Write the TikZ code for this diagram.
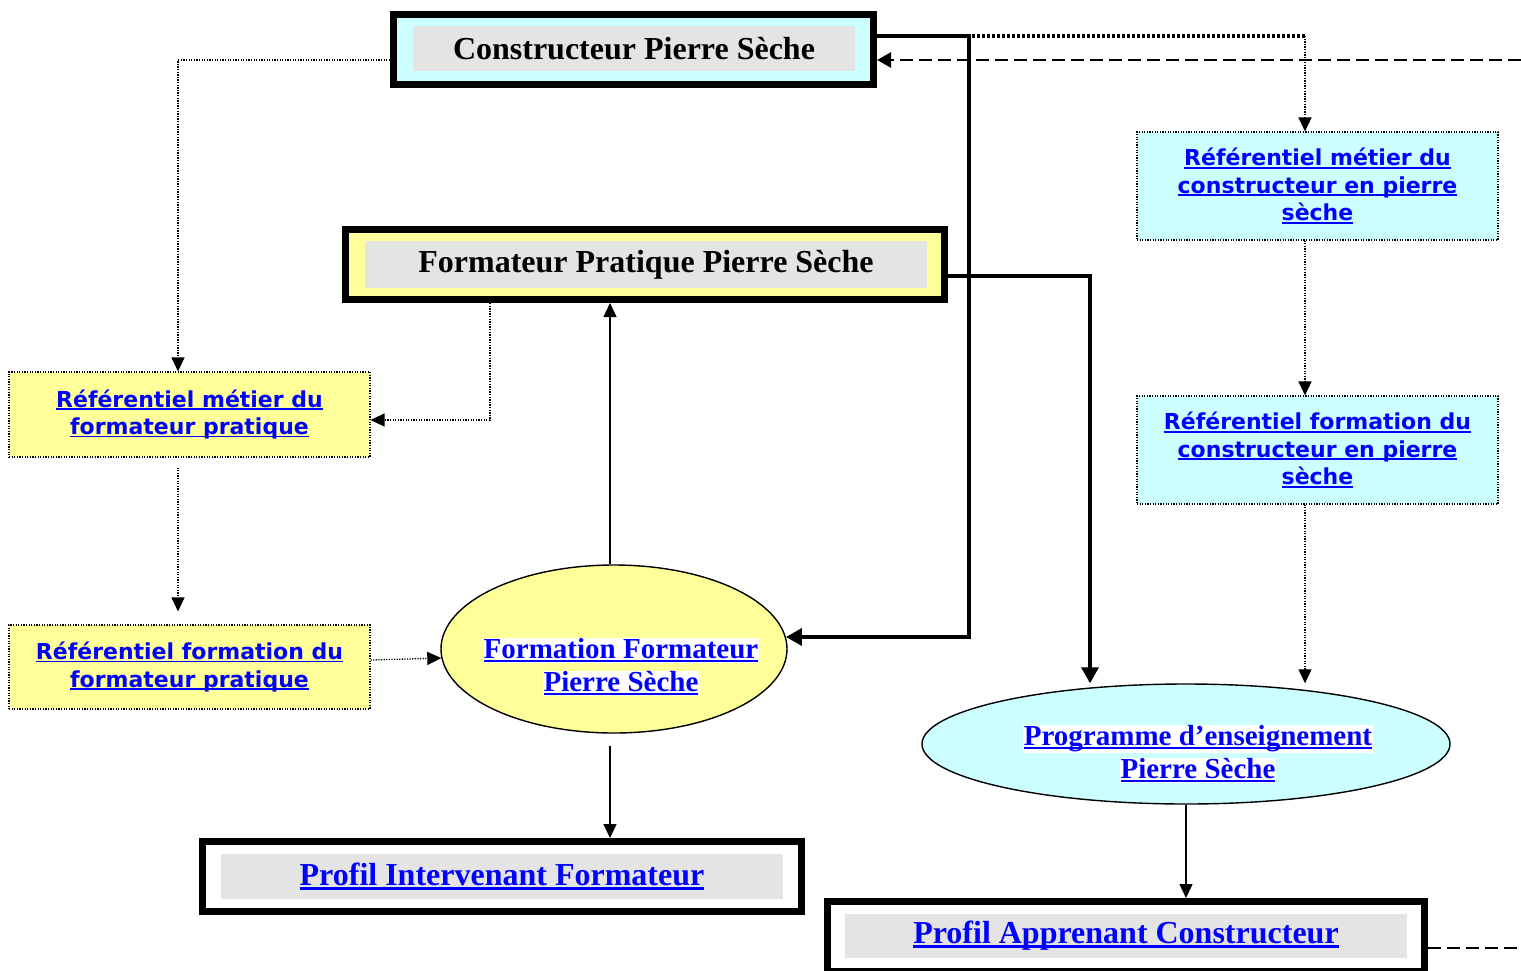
\documentclass[tikz,border=0pt]{standalone}
\usepackage{fontspec}
\setmainfont{Liberation Serif}
\newfontfamily\refsans{DejaVu Sans}
\usetikzlibrary{arrows.meta,shapes.geometric,calc}
\definecolor{cyanF}{HTML}{CCFFFF}
\definecolor{yelF}{HTML}{FFFF99}
\definecolor{grayF}{HTML}{E4E4E4}
\definecolor{linkblue}{HTML}{0000FF}
\newcommand\lnk[1]{\begingroup\color{linkblue}\setbox0=\hbox{#1}\rlap{\rule[-0.12em]{\wd0}{0.08em}}\box0\endgroup}
\newcommand\whl[1]{{\fboxsep=0.5pt\colorbox{white}{#1}}}
\begin{document}
\begin{tikzpicture}[x=1pt,y=-1pt,
  heavybox/.style={draw=black,line width=7pt,inner sep=0pt,minimum height=70pt},
  grayin/.style={fill=grayF,inner sep=0pt,font=\fontsize{32}{36}\selectfont\bfseries},
  refbox/.style={draw=black,line width=1.1pt,dash pattern=on 1.2pt off 1.4pt,inner sep=0pt,minimum width=361pt,align=center,font=\refsans\bfseries\fontsize{22}{27.5}\selectfont},
  ellbox/.style={ellipse,draw=black,line width=1.4pt,inner sep=0pt},
  elltext/.style={align=center,inner sep=0pt,font=\fontsize{29}{33}\selectfont\bfseries},
  arr/.style={-{Triangle[length=14pt,width=13pt]}},
  dasharr/.style={-{Triangle[length=14pt,width=15pt]}},
  bigarr/.style={-{Triangle[length=16pt,width=17pt]}},
  thinA/.style={line width=1.4pt,arr},
  thickA/.style={line width=3.5pt,bigarr},
  dotA/.style={line width=1.3pt,dash pattern=on 1.3pt off 1.3pt},
  dotB/.style={line width=3.5pt,dash pattern=on 3pt off 2pt},
  dashA/.style={line width=2.2pt,dash pattern=on 13pt off 6pt}]
\useasboundingbox[fill=white] (0,0) rectangle (1521,970);
% boxes
\node[heavybox,fill=cyanF,minimum width=480pt] (cps) at (633.5,49) {};
\node[grayin,minimum width=442pt,minimum height=45pt] (cpsT) at (634,48.5) {Constructeur Pierre Sèche};
\node[heavybox,fill=yelF,minimum width=599pt] (fps) at (645,264.5) {};
\node[grayin,minimum width=562pt,minimum height=47pt] (fpsT) at (646,264.5) {Formateur Pratique Pierre Sèche};
\node[heavybox,fill=white,minimum width=599pt] (pif) at (502,876.5) {};
\node[grayin,minimum width=562pt,minimum height=45pt] (pifT) at (502,876.5) {\lnk{Profil Intervenant Formateur}};
\node[heavybox,fill=white,minimum width=597pt] (pac) at (1126,936.5) {};
\node[grayin,minimum width=562pt,minimum height=44pt] (pacT) at (1126,936) {\lnk{Profil Apprenant Constructeur}};
\node[refbox,fill=yelF,minimum height=85pt] (rmf) at (189.5,414.5) {\lnk{Référentiel métier du}\\\lnk{formateur pratique}};
\node[refbox,fill=yelF,minimum height=84pt] (rff) at (189.5,667) {\lnk{Référentiel formation du}\\\lnk{formateur pratique}};
\node[refbox,fill=cyanF,minimum height=108pt] (rmc) at (1317.5,186) {\lnk{Référentiel métier du}\\\lnk{constructeur en pierre}\\\lnk{sèche}};
\node[refbox,fill=cyanF,minimum height=108pt] (rfc) at (1317.5,450) {\lnk{Référentiel formation du}\\\lnk{constructeur en pierre}\\\lnk{sèche}};
\node[ellbox,fill=yelF,minimum width=346pt,minimum height=168pt] (ff) at (614,649) {};
\node[elltext] (ffT) at (621,667) {\whl{\lnk{Formation Formateur}}\\\whl{\lnk{Pierre Sèche}}};
\node[ellbox,fill=cyanF,minimum width=528pt,minimum height=120pt] (pes) at (1186,744) {};
\node[elltext] (pesT) at (1198,754) {\whl{\lnk{Programme d’enseignement}}\\\whl{\lnk{Pierre Sèche}}};
% free ends
\coordinate (e1) at (1521,60);
\coordinate (e2) at (1521,948);
% connectors
\draw[dotA,arr] ([yshift=-11pt]cps.west) -| ([xshift=-11.5pt]rmf.north);
\draw[thickA] ([yshift=13pt]cps.east) -- ++(92,0) |- (ff.4.3);
\draw[dotB] ([yshift=13pt]cps.east) -- ++(428,0) coordinate (k1);
\draw[dotA,arr] (k1) -- (k1 |- rmc.north);
\draw[dashA,dasharr] (e1) -- (e1 -| cps.east);
\draw[thickA] ([yshift=-11.5pt]fps.east) -| ([xshift=-96pt]pes.north);
\path ([xshift=-155pt]fps.south) coordinate (k9);
\draw[dotA,arr] (k9) |- ([yshift=-5.5pt]rmf.east);
\draw[dotA,arr] ([xshift=-11.5pt,yshift=-10pt]rmf.south) -- ([xshift=-11.5pt,yshift=13pt]rff.north);
\draw[dotA,arr] ([yshift=7pt]rff.east) -- (ff.183.6);
\path ([xshift=-4pt]ff.north) coordinate (k7);
\draw[thinA] (k7) -- (k7 |- fps.south);
\path ([xshift=-4pt,yshift=-12pt]ff.south) coordinate (k8);
\draw[thinA] (k8) -- (k8 |- pif.north);
\draw[dotA,arr] ([xshift=-12.5pt]rmc.south) -- ([xshift=-12.5pt]rfc.north);
\path ([xshift=-12.5pt]rfc.south) coordinate (k6);
\draw[dotA,arr] (k6) -- (k6 |- pes.north);
\draw[thinA] (pes.south) -- (pes.south |- pac.north);
\draw[dashA] ([yshift=-11.5pt]pac.east) -- (e2);
\end{tikzpicture}
\end{document}
